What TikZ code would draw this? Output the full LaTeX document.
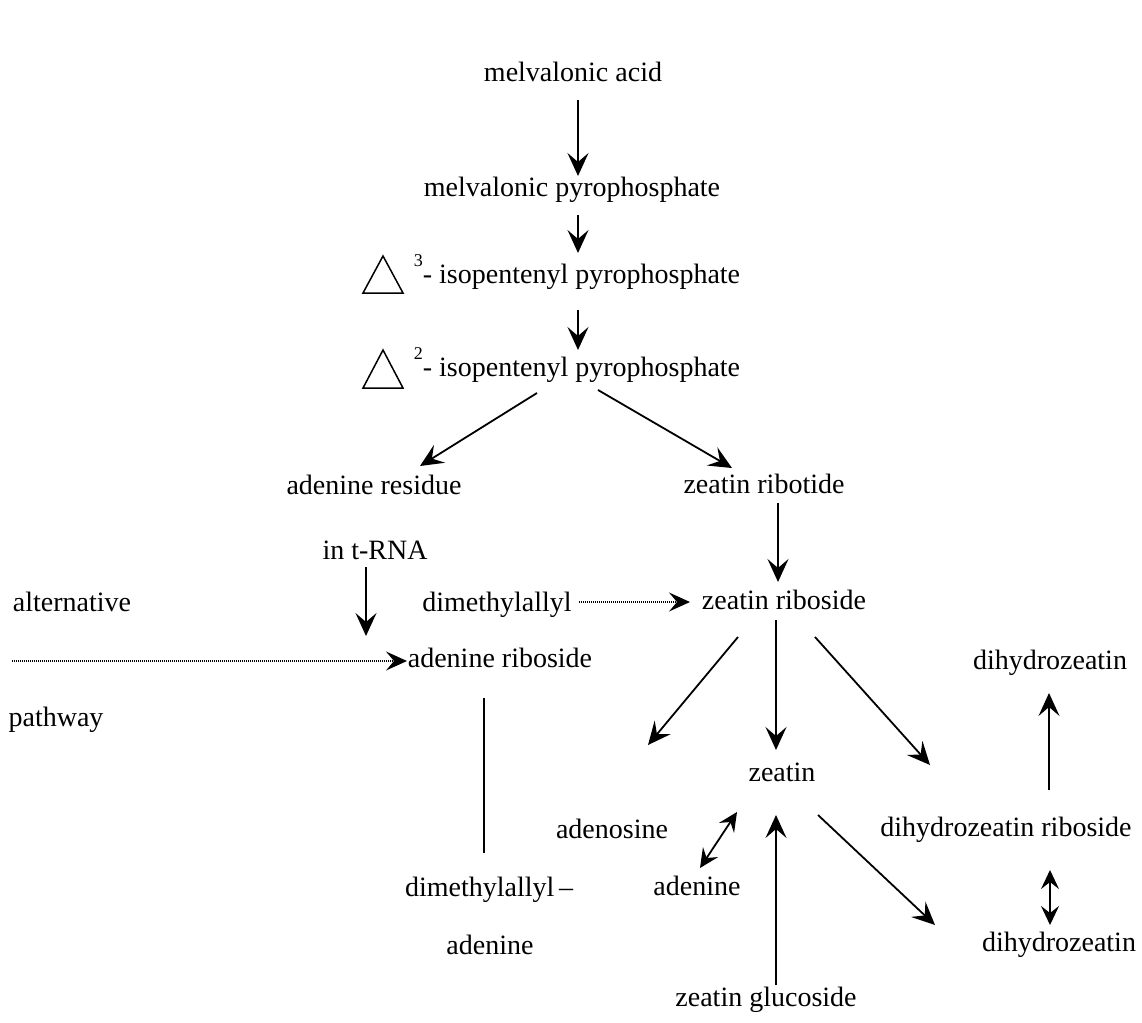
\documentclass[tikz,border=0pt]{standalone}
\usepackage{fontspec}
\setmainfont{Liberation Serif}
\usetikzlibrary{arrows.meta}
\begin{document}
\begin{tikzpicture}[x=1pt,y=-1pt,
  lbl/.style={inner sep=0pt,text height=19pt,text depth=6pt,font=\fontsize{28}{32}\selectfont},
  arr/.style={line width=1.8pt,-{Stealth[length=23pt,width=21pt,inset=9pt]}},
  darr/.style={line width=1.8pt,{Stealth[length=19pt,width=18pt,inset=7pt]}-{Stealth[length=19pt,width=18pt,inset=7pt]}},
  dotarr/.style={line width=1.3pt,dash pattern=on 1.1pt off 0.9pt,-{Stealth[length=21pt,width=19pt,inset=8pt]}},
  plain/.style={line width=1.8pt},
  tri/.style={line width=1.5pt}]
\useasboundingbox[fill=white] (0,0) rectangle (1142,1022);
% nodes
\node[lbl] (ma) at (573,75) {melvalonic acid};
\node[lbl] (mp) at (572,190) {melvalonic pyrophosphate};
\node[lbl] (i3) at (577,277) {\raisebox{17pt}{\fontsize{18}{20}\selectfont 3}- isopentenyl pyrophosphate};
\node[lbl] (i2) at (577,370) {\raisebox{17pt}{\fontsize{18}{20}\selectfont 2}- isopentenyl pyrophosphate};
\node[lbl] (ar) at (374,488) {adenine residue};
\node[lbl] (zrt) at (764,487) {zeatin ribotide};
\node[lbl] (trna) at (375,553) {in t-RNA};
\node[lbl] (alt) at (72,605) {alternative};
\node[lbl] (dma) at (497,605) {dimethylallyl};
\node[lbl] (zrs) at (784,603) {zeatin riboside};
\node[lbl] (ars) at (500,661) {adenine riboside};
\node[lbl] (pw) at (56,720) {pathway};
\node[lbl] (z) at (782,775) {zeatin};
\node[lbl] (ads) at (612,832) {adenosine};
\node[lbl] (ade) at (697,889) {adenine};
\node[lbl] (zg) at (766,1000) {zeatin glucoside};
\node[lbl] (dzr) at (1006,830) {dihydrozeatin riboside};
\node[lbl] (dz1) at (1050,663) {dihydrozeatin};
\node[lbl] (dz2) at (1059,945) {dihydrozeatin};
\node[lbl] (dmaa) at (489,890) {dimethylallyl\,--};
\node[lbl] (ade2) at (490,948) {adenine};
\coordinate (altstart) at (12,661);
% triangles (Delta)
\draw[tri] (363,293) -- (383,256) -- (403,293) -- cycle;
\draw[tri] (363,388) -- (383,350) -- (403,388) -- cycle;
% connectors
\draw[arr] ([shift={(5,25)}]ma.center) -- ([shift={(6,-14)}]mp.center);
\draw[arr] ([shift={(6,25)}]mp.center) -- ([shift={(1,-24)}]i3.center);
\draw[arr] ([shift={(1,33)}]i3.center) -- ([shift={(1,-20)}]i2.center);
\draw[arr] ([shift={(-40,23)}]i2.center) -- ([shift={(46,-22)}]ar.center);
\draw[arr] ([shift={(21,20)}]i2.center) -- ([shift={(-32,-19)}]zrt.center);
\draw[arr] ([shift={(14,16)}]zrt.center) -- ([shift={(-6,-21)}]zrs.center);
\draw[arr] ([shift={(-9,14)}]trna.center) -- ([shift={(-134,-25)}]ars.center);
\draw[dotarr] ([shift={(82,-3)}]dma.center) -- ([shift={(-94,-1)}]zrs.center);
\draw[dotarr] (altstart) -- ([shift={(-93,0)}]ars.center);
\draw[plain] ([shift={(-16,37)}]ars.center) -- ([shift={(-5,-37)}]dmaa.center);
\draw[arr] ([shift={(-46,34)}]zrs.center) -- ([shift={(36,-87)}]ads.center);
\draw[arr] ([shift={(-8,17)}]zrs.center) -- ([shift={(-6,-25)}]z.center);
\draw[arr] ([shift={(31,34)}]zrs.center) -- ([shift={(-76,-65)}]dzr.center);
\draw[darr] ([shift={(3,-21)}]ade.center) -- ([shift={(-45,37)}]z.center);
\draw[arr] ([shift={(10,-15)}]zg.center) -- ([shift={(-6,40)}]z.center);
\draw[arr] ([shift={(36,40)}]z.center) -- ([shift={(-124,-20)}]dz2.center);
\draw[arr] ([shift={(43,-40)}]dzr.center) -- ([shift={(-1,30)}]dz1.center);
\draw[darr] ([shift={(44,40)}]dzr.center) -- ([shift={(-9,-20)}]dz2.center);
\end{tikzpicture}
\end{document}
